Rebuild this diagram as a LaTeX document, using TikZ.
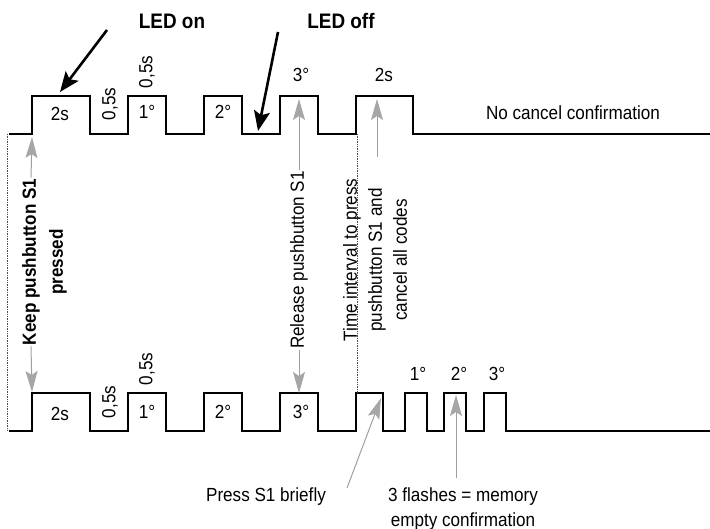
\documentclass[tikz,border=0pt]{standalone}
\usepackage{fontspec}
\setmainfont[FakeStretch=0.9]{Liberation Sans}
\usetikzlibrary{arrows.meta}
\begin{document}
\begin{tikzpicture}[x=1pt,y=-1pt,
  font=\fontsize{19}{25}\selectfont,
  wave/.style={line width=2.3pt, line join=miter, line cap=butt},
  lbl/.style={inner sep=1pt},
  rlbl/.style={rotate=90, inner sep=1pt},
  boldlbl/.style={inner sep=1pt, font=\fontsize{19}{25}\selectfont\bfseries},
  bigbold/.style={inner sep=1pt, font=\fontsize{21}{25}\selectfont\bfseries},
  garrow/.style={draw=gray!75, line width=1pt, -{Stealth[length=21pt,width=12pt,inset=4pt,color=gray!70]}},
  barrow/.style={line width=2.6pt, -{Stealth[length=20pt,width=16pt,inset=4pt]}},
  dotline/.style={densely dotted, line width=0.7pt, draw=gray!60!black}]
\useasboundingbox (0,0) rectangle (710,529);

% waveforms
\draw[wave] (9,134) -- (32,134) -- (32,96) -- (90,96) -- (90,134) -- (128,134) -- (128,96) -- (166,96) -- (166,134)
  -- (204,134) -- (204,96) -- (242,96) -- (242,134) -- (280,134) -- (280,96) -- (318,96) -- (318,134)
  -- (356,134) -- (356,96) -- (413,96) -- (413,134) -- (710,134);
\draw[wave] (9,431) -- (32,431) -- (32,393) -- (90,393) -- (90,431) -- (128,431) -- (128,393) -- (166,393) -- (166,431)
  -- (204,431) -- (204,393) -- (242,393) -- (242,431) -- (280,431) -- (280,393) -- (318,393) -- (318,431)
  -- (356,431) -- (356,393) -- (383,393) -- (383,431) -- (405,431) -- (405,393) -- (427,393) -- (427,431)
  -- (444,431) -- (444,393) -- (466,393) -- (466,431) -- (484,431) -- (484,393) -- (506,393) -- (506,431) -- (710,431);

% dotted guides
\coordinate (d1a) at (7,134);
\coordinate (d1b) at (7,431);
\coordinate (d2a) at (357,134);
\coordinate (d2b) at (357,393);
\draw[dotline] (d1a) -- (d1b);
\draw[dotline] (d2a) -- (d2b);

% top labels
\node[lbl] (t2s) at (60,114) {2s};
\node[rlbl] (t05a) at (110,104) {0,5s};
\node[rlbl] (t05b) at (147,72) {0,5s};
\node[lbl] (t1) at (147,112) {1°};
\node[lbl] (t2) at (223,112) {2°};
\node[lbl] (t3) at (301,75) {3°};
\node[lbl] (t2s2) at (384,75) {2s};
\node[lbl] (nocancel) at (573,113) {No cancel confirmation};

% bottom labels
\node[lbl] (b2s) at (60,414) {2s};
\node[rlbl] (b05a) at (110,402) {0,5s};
\node[rlbl] (b05b) at (147,369) {0,5s};
\node[lbl] (b1) at (147,412) {1°};
\node[lbl] (b2) at (223,412) {2°};
\node[lbl] (b3) at (301,412) {3°};
\node[lbl] (c1) at (418,374) {1°};
\node[lbl] (c2) at (459,374) {2°};
\node[lbl] (c3) at (497,374) {3°};

% LED labels and arrows
\node[bigbold] (ledon) at (172,21) {LED on};
\node[bigbold] (ledoff) at (341,21) {LED off};
\coordinate (ledonS) at (107,30);
\coordinate (ledonE) at (60,92);
\coordinate (ledoffS) at (278,32);
\coordinate (ledoffE) at (258,131);
\draw[barrow] (ledonS) -- (ledonE);
\draw[barrow] (ledoffS) -- (ledoffE);

% keep pushbutton
\node[boldlbl, rotate=90] (keep1) at (31,262) {Keep pushbutton S1};
\node[boldlbl, rotate=90] (keep2) at (58,262) {pressed};
\coordinate (keepT) at (32,137);
\coordinate (keepB) at (32,392);
\draw[garrow] (keep1.east) -- (keepT);
\draw[garrow] (keep1.west) -- (keepB);

% release pushbutton
\node[rlbl] (rel) at (299,260) {Release pushbutton S1};
\coordinate (relT) at (299,99);
\coordinate (relB) at (299,393);
\draw[garrow] (rel.east) -- (relT);
\draw[garrow] (rel.west) -- (relB);

% time interval
\node[rlbl, align=center] (time) at (375,260) {Time interval to press\\pushbutton S1 and\\cancel all codes};
\coordinate (timeS) at (377,157);
\coordinate (timeE) at (377,99);
\draw[garrow] (timeS) -- (timeE);

% bottom annotations
\node[lbl] (press) at (266,497) {Press S1 briefly};
\node[lbl, align=center] (flash) at (463,509) {3 flashes = memory\\empty confirmation};
\coordinate (pressS) at (347,488);
\coordinate (pressE) at (381,398);
\coordinate (flashS) at (456,478);
\coordinate (flashE) at (456,395);
\draw[garrow] (pressS) -- (pressE);
\draw[garrow] (flashS) -- (flashE);
\end{tikzpicture}
\end{document}
